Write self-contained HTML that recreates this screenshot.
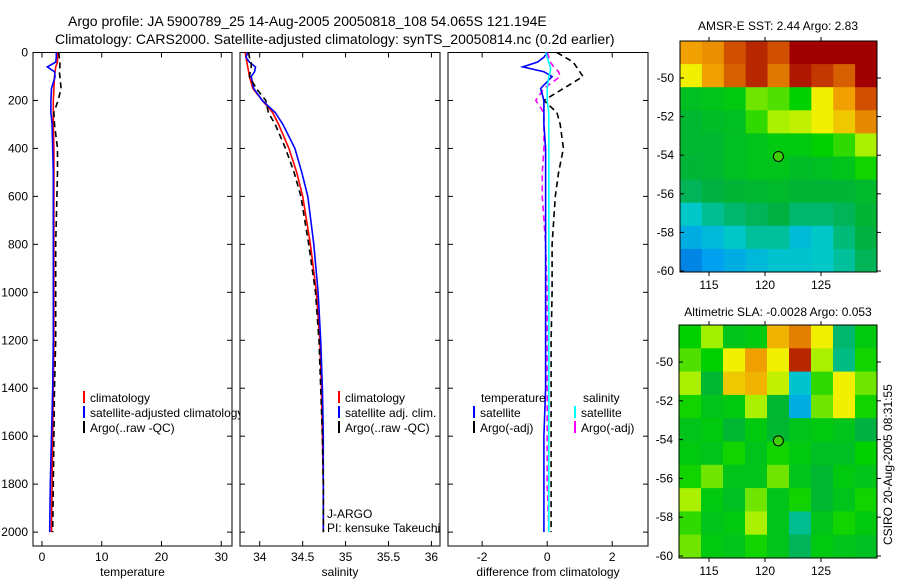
<!DOCTYPE html>
<html><head><meta charset="utf-8">
<style>
body{margin:0;background:#fff;}
svg{display:block;font-family:"Liberation Sans",sans-serif;}
</style></head>
<body>
<svg id="fig" width="900" height="580" viewBox="0 0 900 580">
<text x="68" y="26" font-size="14">Argo profile: JA 5900789_25 14-Aug-2005 20050818_108 54.065S 121.194E</text>
<text x="55" y="44" font-size="14">Climatology: CARS2000. Satellite-adjusted climatology: synTS_20050814.nc (0.2d earlier)</text>
<text x="778" y="30" font-size="12" text-anchor="middle">AMSR-E SST: 2.44 Argo: 2.83</text>
<text x="778" y="316" font-size="12" text-anchor="middle">Altimetric SLA: -0.0028 Argo: 0.053</text>
<text transform="translate(892,545) rotate(-90)" font-size="12">CSIRO 20-Aug-2005 08:31:55</text>
</svg>
<script>
// depths (m)
const depths=[0,20,40,60,80,100,150,200,250,300,400,500,600,800,1000,1200,1400,1600,1800,2000];
// temperature
const tempClim=[2.6,2.6,2.6,2.3,2.2,2.1,2.0,1.9,1.9,1.9,2.0,2.0,2.0,2.0,2.0,2.0,1.9,1.8,1.7,1.6];
const tempSat=[2.4,2.4,2.3,0.9,2.1,2.2,1.6,1.5,1.5,1.7,1.8,1.9,1.9,1.9,1.9,1.9,1.8,1.6,1.4,1.3];
const tempArgo=[2.8,2.9,3.0,3.0,2.9,3.0,3.2,2.7,2.0,2.1,2.6,2.6,2.5,2.3,2.3,2.3,2.1,2.0,1.9,1.8];
// salinity
const salClim=[33.83,33.84,33.85,33.86,33.87,33.88,33.92,34.03,34.15,34.22,34.34,34.43,34.5,34.59,34.66,34.7,34.72,34.73,34.74,34.74];
const salSat=[33.86,33.84,33.88,33.95,33.94,33.9,33.93,34.03,34.18,34.27,34.41,34.49,34.56,34.63,34.68,34.71,34.73,34.74,34.74,34.74];
const salArgo=[33.87,33.88,33.9,33.9,33.89,33.88,33.96,34.07,34.1,34.18,34.3,34.4,34.48,34.57,34.65,34.69,34.71,34.73,34.74,34.74];
// differences from climatology
const dTempSat=[0,-0.1,-0.3,-0.75,-0.1,0.15,-0.2,-0.1,-0.1,-0.1,-0.05,-0.05,-0.05,-0.05,-0.05,-0.05,-0.05,-0.1,-0.1,-0.1];
const dTempArgo=[0.3,0.55,0.8,0.9,1.0,1.1,0.5,-0.1,0.3,0.4,0.5,0.35,0.25,0.15,0.15,0.12,0.12,0.12,0.12,0.12];
const dSalSat=[-0.05,0.0,0.05,0.1,0.1,0.05,0.0,0.0,0.05,0.05,0.05,0.05,0.05,0.05,0.05,0.05,0.05,0.05,0.05,0.05];
const dSalArgo=[0,0.05,0.1,0.2,0.35,0.4,-0.1,-0.35,-0.1,-0.1,-0.1,-0.15,-0.15,-0.05,0.0,0.0,0.0,0.0,0.0,0.05];
// tick labels
const depthTicks=[0,200,400,600,800,1000,1200,1400,1600,1800,2000];
const tempTicks=[0,10,20,30];
const salTicks=[34,34.5,35,35.5,36];
const diffTicks=[-2,0,2];
const latTicks=[-50,-52,-54,-56,-58,-60];
const lonTicks=[115,120,125];
// maps (normalised colour index 0..1), rows north->south
const sstGrid=[
[0.8,0.82,0.9,0.95,0.9,1,1,1,1],
[0.72,0.8,0.88,0.95,0.85,0.97,0.93,0.88,1],
[0.48,0.5,0.52,0.62,0.6,0.55,0.72,0.8,0.9],
[0.45,0.47,0.48,0.58,0.66,0.68,0.72,0.76,0.83],
[0.45,0.45,0.48,0.5,0.52,0.52,0.55,0.58,0.66],
[0.44,0.45,0.48,0.5,0.5,0.47,0.48,0.5,0.56],
[0.4,0.42,0.44,0.45,0.46,0.44,0.44,0.44,0.46],
[0.3,0.35,0.38,0.4,0.42,0.38,0.38,0.4,0.44],
[0.2,0.24,0.3,0.34,0.34,0.25,0.3,0.37,0.42],
[0.1,0.15,0.2,0.24,0.28,0.28,0.3,0.34,0.4]];
const slaGrid=[
[0.55,0.65,0.5,0.52,0.78,0.84,0.72,0.38,0.52],
[0.6,0.55,0.72,0.8,0.72,0.95,0.66,0.36,0.56],
[0.66,0.45,0.76,0.78,0.68,0.28,0.58,0.72,0.62],
[0.56,0.5,0.52,0.66,0.45,0.2,0.62,0.72,0.56],
[0.5,0.52,0.45,0.52,0.45,0.5,0.52,0.5,0.42],
[0.52,0.5,0.56,0.5,0.56,0.52,0.48,0.48,0.55],
[0.56,0.62,0.5,0.5,0.62,0.5,0.45,0.52,0.5],
[0.66,0.52,0.48,0.62,0.5,0.56,0.45,0.5,0.56],
[0.58,0.5,0.52,0.66,0.5,0.35,0.5,0.56,0.52],
[0.62,0.52,0.5,0.56,0.5,0.4,0.52,0.5,0.48]];
const floatLon=121.194, floatLat=-54.065;

const NS='http://www.w3.org/2000/svg';
const svg=document.getElementById('fig');
function mk(tag,attrs,parent){const e=document.createElementNS(NS,tag);for(const k in attrs)e.setAttribute(k,attrs[k]);(parent||svg).appendChild(e);return e;}
const yTop=52.5, yPer=0.2398;
const yD=d=>yTop+d*yPer;
const axBottom=546;

function panel(name,x0,x1,xmin,xmax,ticks,title,showY){
  const g=mk('g',{});
  
  
  mk('rect',{x:x0,y:yTop,width:x1-x0,height:axBottom-yTop,fill:'#fff',stroke:'#000','stroke-width':1},g);
  const sx=v=>x0+(v-xmin)/(xmax-xmin)*(x1-x0);
  ticks.forEach(t=>{
    const x=sx(t);
    mk('line',{x1:x,x2:x,y1:axBottom,y2:axBottom-5,stroke:'#000'},g);
    mk('line',{x1:x,x2:x,y1:yTop,y2:yTop+5,stroke:'#000'},g);
    const tx=mk('text',{x:x,y:axBottom+15,'font-size':12,'text-anchor':'middle'},g);
    tx.textContent=t;
  });
  depthTicks.forEach(d=>{
    const y=yD(d);
    mk('line',{x1:x0,x2:x0+5,y1:y,y2:y,stroke:'#000'},g);
    mk('line',{x1:x1,x2:x1-5,y1:y,y2:y,stroke:'#000'},g);
    if(showY){const tx=mk('text',{x:x0-5,y:y+4,'font-size':12,'text-anchor':'end'},g);tx.textContent=d;}
  });
  const tt=mk('text',{x:(x0+x1)/2,y:576,'font-size':12,'text-anchor':'middle'},g);
  tt.textContent=title;
  return {g,sx};
}
function series(p,vals,color,dash,name){
  const pts=vals.map((v,i)=>p.sx(v).toFixed(1)+','+yD(depths[i]).toFixed(1)).join(' ');
  const l=mk('polyline',{points:pts,fill:'none',stroke:color,'stroke-width':1.6,'stroke-dasharray':dash||'none'},p.g);
  
  
}
function legend(g,x,y,color,label,name){
  mk('line',{x1:x,x2:x,y1:y-11,y2:y+1,stroke:color,'stroke-width':2},g);
  const t=mk('text',{x:x+6,y:y,'font-size':12},g);
  t.textContent=label;
  
  
}

const p1=panel('temperature-panel',33,232,-1.5,31.8,tempTicks,'temperature',true);
series(p1,tempClim,'#f00',null,'temp-climatology-line');
series(p1,tempSat,'#00f',null,'temp-satellite-line');
series(p1,tempArgo,'#000','6,4','temp-argo-line');
legend(p1.g,84,402,'#f00','climatology','legend-climatology');
legend(p1.g,84,417,'#00f','satellite-adjusted climatology','legend-satellite-adjusted');
legend(p1.g,84,432,'#000','Argo(..raw -QC)','legend-argo-raw');

const p2=panel('salinity-panel',240,440,33.77,36.1,salTicks,'salinity',false);
series(p2,salClim,'#f00',null,'sal-climatology-line');
series(p2,salSat,'#00f',null,'sal-satellite-line');
series(p2,salArgo,'#000','6,4','sal-argo-line');
legend(p2.g,339,402,'#f00','climatology','legend-sal-climatology');
legend(p2.g,339,417,'#00f','satellite adj. clim.','legend-sal-satellite');
legend(p2.g,339,432,'#000','Argo(..raw -QC)','legend-sal-argo');
let t=mk('text',{x:327,y:518,'font-size':12},p2.g);t.textContent='J-ARGO';
t=mk('text',{x:327,y:532,'font-size':12},p2.g);t.textContent='PI: kensuke Takeuchi';

const p3=panel('difference-panel',448,648,-3.05,3.1,diffTicks,'difference from climatology',false);
series(p3,dSalArgo,'#f0f','6,4','sal-argo-diff-line');
series(p3,dTempArgo,'#000','6,4','temp-argo-diff-line');
series(p3,dTempSat,'#00f',null,'temp-satellite-diff-line');
series(p3,dSalSat,'#0ff',null,'sal-satellite-diff-line');
t=mk('text',{x:481,y:402,'font-size':12},p3.g);t.textContent='temperature';
legend(p3.g,474,417,'#00f','satellite','legend-temp-satellite');
legend(p3.g,474,432,'#000','Argo(-adj)','legend-temp-argo');
t=mk('text',{x:583,y:402,'font-size':12},p3.g);t.textContent='salinity';
legend(p3.g,575,417,'#0ff','satellite','legend-sal-sat');
legend(p3.g,575,432,'#f0f','Argo(-adj)','legend-sal-argo-adj');

const stops=[[0,[0,80,208]],[0.15,[0,160,240]],[0.3,[0,200,200]],[0.42,[0,176,64]],[0.55,[0,208,0]],[0.65,[160,240,0]],[0.72,[240,240,0]],[0.8,[240,160,0]],[0.9,[208,80,0]],[1,[160,0,0]]];
function cmap(v){for(let i=1;i<stops.length;i++){if(v<=stops[i][0]){const a=stops[i-1],b=stops[i],f=(v-a[0])/(b[0]-a[0]);return 'rgb('+a[1].map((c,k)=>Math.round(c+(b[1][k]-c)*f)).join(',')+')';}}return 'rgb(160,0,0)';}

function map(name,grid,x0,y0,x1,y1,latRef,latPx){
  const g=mk('g',{});
  
  
  const rows=grid.length,cols=grid[0].length,cw=(x1-x0)/cols,ch=(y1-y0)/rows;
  grid.forEach((row,r)=>row.forEach((v,c)=>{
    mk('rect',{x:x0+c*cw,y:y0+r*ch,width:cw+0.5,height:ch+0.5,fill:cmap(v)},g);
  }));
  mk('rect',{x:x0,y:y0,width:x1-x0,height:y1-y0,fill:'none',stroke:'#000'},g);
  const lx=lon=>709+(lon-115)*11.2;
  const ly=lat=>latRef+(lat+50)*(-latPx);
  latTicks.forEach(la=>{const y=ly(la);
    mk('line',{x1:x0,x2:x0+4,y1:y,y2:y,stroke:'#000'},g);
    mk('line',{x1:x1,x2:x1+4,y1:y,y2:y,stroke:'#000'},g);
    const tx=mk('text',{x:x0-6,y:y+4,'font-size':12,'text-anchor':'end'},g);tx.textContent=la;});
  lonTicks.forEach(lo=>{const x=lx(lo);
    mk('line',{x1:x,x2:x,y1:y1,y2:y1+4,stroke:'#000'},g);
    mk('line',{x1:x,x2:x,y1:y0,y2:y0-4,stroke:'#000'},g);
    const tx=mk('text',{x:x,y:y1+17,'font-size':12,'text-anchor':'middle'},g);tx.textContent=lo;});
  const m=mk('circle',{cx:lx(floatLon),cy:ly(floatLat),r:5,fill:'#40d000',stroke:'#000'},g);
  
  
}
map('sst-map',sstGrid,680,41,877,272,78,19.3);
map('sla-map',slaGrid,679,325,877,558,362,19.4);
</script>
</body></html>
